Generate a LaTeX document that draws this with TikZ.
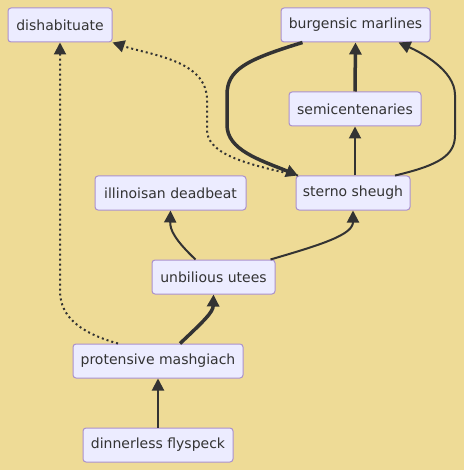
\documentclass[tikz,border=0pt]{standalone}
\usepackage{fontspec}
\setmainfont{DejaVu Sans}
\usetikzlibrary{arrows.meta}
\definecolor{bgc}{RGB}{238,219,150}
\definecolor{nfill}{RGB}{236,236,255}
\definecolor{nline}{RGB}{170,145,205}
\definecolor{ecol}{RGB}{51,51,51}
\definecolor{tcol}{RGB}{51,51,51}
\begin{document}
\begin{tikzpicture}[x=1pt,y=-1pt,
  box/.style={draw=nline,fill=nfill,line width=1pt,rounded corners=3pt,
    minimum height=34pt,inner sep=0pt,text=tcol,font=\fontsize{14}{16}\selectfont},
  tip/.style={-{Triangle[length=12pt 0,width=12pt 0]}},
  normal/.style={draw=ecol,line width=2pt,tip},
  thick2/.style={draw=ecol,line width=3.5pt,tip},
  dot/.style={draw=ecol,line width=2pt,dash pattern=on 2pt off 3pt,tip}]
\fill[bgc] (0,0) rectangle (464,470);
\useasboundingbox (0,0) rectangle (464,470);
\node[box,minimum width=104pt] (dis) at (60,25) {dishabituate};
\node[box,minimum width=149pt] (bur) at (355.5,25) {burgensic marlines};
\node[box,minimum width=132pt] (sem) at (355,109) {semicentenaries};
\node[box,minimum width=151pt] (ill) at (170.5,193) {illinoisan deadbeat};
\node[box,minimum width=114pt] (ste) at (353,193) {sterno sheugh};
\node[box,minimum width=123pt] (unb) at (213.5,277) {unbilious utees};
\node[box,minimum width=170pt] (pro) at (158,361) {protensive mashgiach};
\node[box,minimum width=150pt] (din) at (158,445) {dinnerless flyspeck};
% edges
\draw[normal] (din.north) -- (pro.south);
\draw[thick2] ([xshift=22pt]pro.north) .. controls (205,320) and (213,312) .. (unb.south);
\draw[dot] ([xshift=-40pt]pro.north) .. controls (70,330) and (60,310) .. (60,290) -- (dis.south);
\draw[normal] ([xshift=-18pt]unb.north) .. controls (175,240) and (170,230) .. (ill.south);
\draw[normal] ([xshift=57pt]unb.north) .. controls (320,245) and (353,235) .. (ste.south);
\draw[normal] ([xshift=2pt]ste.north) -- (sem.south);
\draw[thick2] (sem.north) -- (bur.north |- bur.south);
\draw[normal] ([xshift=42pt]ste.north) .. controls (440,165) and (455,155) .. (455,135) -- (455,95) .. controls (455,70) and (420,52) .. ([xshift=43pt]bur.south);
\draw[thick2] ([xshift=-53pt]bur.south) .. controls (245,60) and (227,70) .. (227,95) -- (227,125) .. controls (227,150) and (260,160) .. ([xshift=-55pt]ste.north);
\draw[dot] ([xshift=-55pt]ste.north) .. controls (250,165) and (207,155) .. (207,130) -- (207,100) .. controls (207,60) and (150,55) .. (dis.south east);
\end{tikzpicture}
\end{document}
